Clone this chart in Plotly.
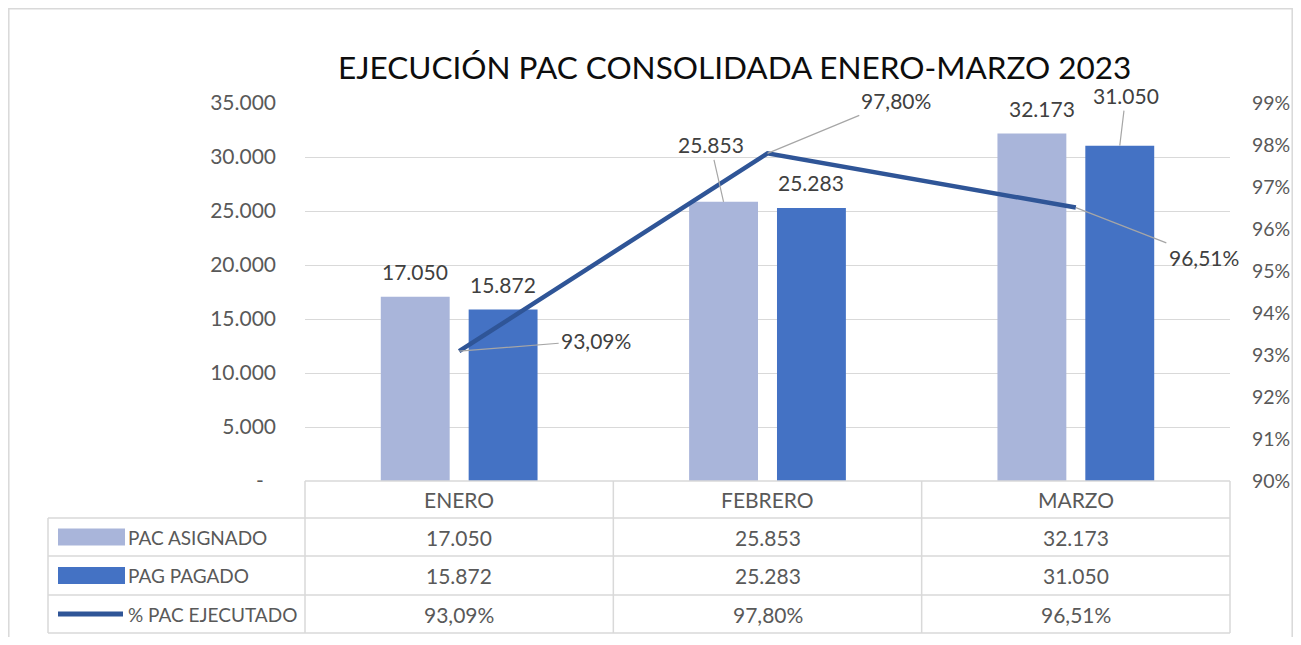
import plotly.graph_objects as go

# ---------------- data ----------------
months = ["ENERO", "FEBRERO", "MARZO"]
pac_asignado = [17050, 25853, 32173]
pag_pagado = [15872, 25283, 31050]
pct_ejecutado = [0.9309, 0.9780, 0.9651]
series_names = ["PAC ASIGNADO", "PAG PAGADO", "% PAC EJECUTADO"]
left_tickvals = [0, 5000, 10000, 15000, 20000, 25000, 30000, 35000]
left_ticktext = ["-\u2007", "5.000", "10.000", "15.000", "20.000", "25.000", "30.000", "35.000"]
title_text = "EJECUCIÓN PAC CONSOLIDADA ENERO-MARZO 2023"

# ---------------- style ----------------
C_LIGHT = "#A9B5DA"
C_DARK = "#4472C4"
C_LINE = "#2F5597"
C_GRID = "#D9D9D9"
C_TICK = "#595959"
C_LABEL = "#404040"
C_LEADER = "#A6A6A6"
FONT = "Lato"
PAGE_W, PAGE_H = 1301, 645
OFF = 8                              # browser body margin
W, H = PAGE_W - 2 * OFF, PAGE_H - 2 * OFF
L, R, T, B = 305, 1230, 103, 481     # plot area in page pixels
BARGAP, GROUPGAP = 0.43, 0.216


def fx(px):
    return (px - L) / (R - L)


def fy(py):
    return (B - py) / (B - T)


def fmt_num(v):
    return f"{v:,.0f}".replace(",", ".")


def fmt_pct(v):
    return f"{v * 100:.2f}%".replace(".", ",")


xs = list(range(len(months)))
slot = (1 - BARGAP) / 2
off = slot / 2

fig = go.Figure()
fig.add_trace(go.Bar(x=xs, y=pac_asignado, name=series_names[0], marker_color=C_LIGHT,
                     marker_line_width=0, offsetgroup="a"))
fig.add_trace(go.Bar(x=xs, y=pag_pagado, name=series_names[1], marker_color=C_DARK,
                     marker_line_width=0, offsetgroup="b"))
fig.add_trace(go.Scatter(x=xs, y=pct_ejecutado, name=series_names[2], mode="lines",
                         line=dict(color=C_LINE, width=4.5), yaxis="y2"))

annotations = []
shapes = []

# title
annotations.append(dict(text=title_text, xref="paper", yref="paper", x=fx(734), y=fy(67),
                        xanchor="center", yanchor="middle", showarrow=False,
                        font=dict(family=FONT, size=31.5, color="#0D0D0D")))

lab_font = dict(family=FONT, size=21, color=C_LABEL)
bar_label_pos = {
    (0, 0): (0, -25, False), (0, 1): (0, -25, False),
    (1, 0): (-13, -57, True), (1, 1): (0, -25, False),
    (2, 0): (10, -25, False), (2, 1): (6, -50, True),
}
for s, vals in enumerate([pac_asignado, pag_pagado]):
    for i, v in enumerate(vals):
        dx, dy, lead = bar_label_pos[(i, s)]
        xpos = i + (-off if s == 0 else off)
        if lead:
            annotations.append(dict(text=fmt_num(v), x=xpos, y=v, xref="x", yref="y",
                                    showarrow=True, arrowhead=0, arrowwidth=1.2,
                                    arrowcolor=C_LEADER, ax=dx, ay=dy, font=lab_font,
                                    borderpad=2))
        else:
            annotations.append(dict(text=fmt_num(v), x=xpos, y=v, xref="x", yref="y",
                                    showarrow=False, xshift=dx, yshift=-dy, font=lab_font))

line_label_pos = [(137, -11), (128, -53), (128, 50)]
for i, v in enumerate(pct_ejecutado):
    dx, dy = line_label_pos[i]
    annotations.append(dict(text=fmt_pct(v), x=i, y=v, xref="x", yref="y2",
                            showarrow=True, arrowhead=0, arrowwidth=1.2, arrowcolor=C_LEADER,
                            ax=dx, ay=dy, font=lab_font, borderpad=2))

# ---------------- data table ----------------
line_style = dict(color=C_GRID, width=1.5)
col_edges = [L + (R - L) * k / 3 for k in range(4)]
row_edges = [481, 518, 556, 595, 633]
tbl_left = 48


def hline(x0, x1, y):
    shapes.append(dict(type="line", xref="paper", yref="paper", x0=fx(x0), x1=fx(x1),
                       y0=fy(y), y1=fy(y), line=line_style, layer="above"))


def vline(x, y0, y1):
    shapes.append(dict(type="line", xref="paper", yref="paper", x0=fx(x), x1=fx(x),
                       y0=fy(y0), y1=fy(y1), line=line_style, layer="above"))


hline(L, R, row_edges[0])
for y in row_edges[1:]:
    hline(tbl_left, R, y)
for x in col_edges:
    vline(x, row_edges[0], row_edges[-1])
vline(tbl_left, row_edges[1], row_edges[-1])

tbl_font = dict(family=FONT, size=21, color=C_TICK)
name_font = dict(family=FONT, size=19, color=C_TICK)
for i, m in enumerate(months):
    cx = (col_edges[i] + col_edges[i + 1]) / 2
    annotations.append(dict(text=m, xref="paper", yref="paper", x=fx(cx),
                            y=fy((row_edges[0] + row_edges[1]) / 2), showarrow=False,
                            xanchor="center", yanchor="middle", font=tbl_font))
    row_texts = [fmt_num(pac_asignado[i]), fmt_num(pag_pagado[i]), fmt_pct(pct_ejecutado[i])]
    for r, t in enumerate(row_texts):
        cy = (row_edges[r + 1] + row_edges[r + 2]) / 2
        annotations.append(dict(text=t, xref="paper", yref="paper", x=fx(cx), y=fy(cy),
                                showarrow=False, xanchor="center", yanchor="middle",
                                font=tbl_font))

for r, name in enumerate(series_names):
    cy = (row_edges[r + 1] + row_edges[r + 2]) / 2
    annotations.append(dict(text=name, xref="paper", yref="paper", x=fx(126), y=fy(cy),
                            showarrow=False, xanchor="left", yanchor="middle", font=name_font))
    if r < 2:
        shapes.append(dict(type="rect", xref="paper", yref="paper", x0=fx(58), x1=fx(125),
                           y0=fy(cy - 8.5), y1=fy(cy + 8.5),
                           fillcolor=[C_LIGHT, C_DARK][r], line_width=0))
    else:
        shapes.append(dict(type="line", xref="paper", yref="paper", x0=fx(58), x1=fx(123),
                           y0=fy(cy), y1=fy(cy), line=dict(color=C_LINE, width=5)))

# outer chart border
shapes.append(dict(type="rect", xref="paper", yref="paper", x0=fx(8.8), x1=fx(1292.2),
                   y0=fy(700), y1=fy(8.8), line=dict(color=C_GRID, width=1.5),
                   fillcolor="rgba(0,0,0,0)", layer="below"))

fig.update_layout(
    width=W, height=H,
    margin=dict(l=L - OFF, r=(OFF + W) - R, t=T - OFF, b=(OFF + H) - B, pad=0,
                autoexpand=False),
    paper_bgcolor="white", plot_bgcolor="white",
    separators=",.",
    showlegend=False,
    bargap=BARGAP, bargroupgap=GROUPGAP,
    font=dict(family=FONT, size=21, color=C_TICK),
    xaxis=dict(range=[-0.5, 2.5], showticklabels=False, showgrid=False, zeroline=False,
               showline=False, ticks="", automargin=False),
    yaxis=dict(range=[0, 35000], tickvals=left_tickvals, ticktext=left_ticktext,
               showgrid=True, gridcolor=C_GRID, gridwidth=1.3, zeroline=False,
               showline=False, ticks="", ticklabelstandoff=28, automargin=False,
               tickfont=dict(family=FONT, size=21, color=C_TICK)),
    yaxis2=dict(range=[0.90, 0.99], overlaying="y", side="right", tickformat=".0%",
                dtick=0.01, tick0=0.90, showgrid=False, zeroline=False, showline=False,
                ticks="", ticklabelstandoff=21, automargin=False,
                tickfont=dict(family=FONT, size=19.5, color=C_TICK)),
    annotations=annotations,
    shapes=shapes,
)

fig.write_html("out.html")
